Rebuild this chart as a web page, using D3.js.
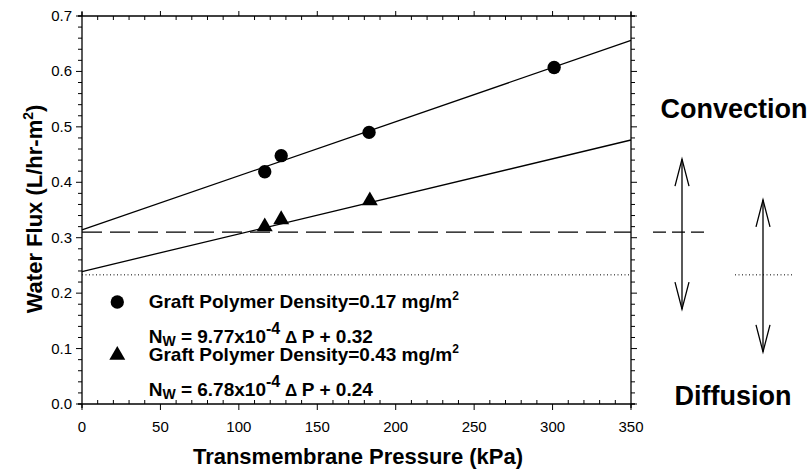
<!DOCTYPE html>
<html>
<head>
<meta charset="utf-8">
<script src="https://cdnjs.cloudflare.com/ajax/libs/d3/7.8.5/d3.min.js"></script>
<style>
  body { margin: 0; background: #fff; }
  svg { display: block; }
  text { font-family: Arial, "Liberation Sans", sans-serif; fill: #000; }
</style>
</head>
<body>
<script>
// measured points, low graft density (circles)
var pressureLow = [116.5, 127, 183, 301];
var fluxLow = [0.419, 0.448, 0.490, 0.607];
// high graft density (triangles)
var pressureHigh = [116.5, 127, 183.5];
var fluxHigh = [0.318, 0.331, 0.365];

// regression lines
var fitSlope = [9.77e-4, 6.78e-4];
var fitIntercept = [0.314, 0.239];

// reference levels
var convectionLevel = 0.31;
var diffusionLevel = 0.233;

var xTicks = [0, 50, 100, 150, 200, 250, 300, 350];
var yTicks = [0.0, 0.1, 0.2, 0.3, 0.4, 0.5, 0.6, 0.7];
var legendDensity = ["Graft Polymer Density=0.17 mg/m", "Graft Polymer Density=0.43 mg/m"];
var legendSlope = ["9.77x10", "6.78x10"];
var legendIntercept = ["0.32", "0.24"];

var margin = {top: 16, right: 177, bottom: 68, left: 82},
    width = 808 - margin.left - margin.right,
    height = 472 - margin.top - margin.bottom;

var svg = d3.select("body").append("svg")
    .attr("width", 808)
    .attr("height", 472);

var g = svg.append("g")
    .attr("transform", "translate(" + margin.left + "," + margin.top + ")");

var x = d3.scaleLinear().domain([0, 350]).range([0, width]);
var y = d3.scaleLinear().domain([0, 0.7]).range([height, 0]);

var minorX = d3.range(0, 351, 10).filter(function(v) { return v % 50 !== 0; });
var minorY = d3.range(0, 36).map(function(i) { return i * 0.02; })
    .filter(function(v) { return Math.abs(v * 10 - Math.round(v * 10)) > 1e-6; });

// frame lines
g.append("line").attr("x1", 0).attr("x2", 0).attr("y1", -4).attr("y2", height + 4)
    .attr("stroke", "#000").attr("stroke-width", 1.3);
g.append("line").attr("x1", width).attr("x2", width).attr("y1", -4).attr("y2", height + 4)
    .attr("stroke", "#000").attr("stroke-width", 1.3);
g.append("line").attr("x1", -4).attr("x2", width + 4).attr("y1", height).attr("y2", height)
    .attr("stroke", "#000").attr("stroke-width", 1.3);
g.append("line").attr("x1", -4).attr("x2", width + 4).attr("y1", 0).attr("y2", 0)
    .attr("stroke", "#000").attr("stroke-width", 1.3);

// bottom axis: major out, minor in
var axBottom = g.append("g").attr("transform", "translate(0," + height + ")");
axBottom.selectAll(".maj").data(xTicks).enter().append("line")
    .attr("x1", function(d) { return x(d); }).attr("x2", function(d) { return x(d); })
    .attr("y1", 0).attr("y2", 6).attr("stroke", "#000");
axBottom.selectAll(".min").data(minorX).enter().append("line")
    .attr("x1", function(d) { return x(d); }).attr("x2", function(d) { return x(d); })
    .attr("y1", 0).attr("y2", -4).attr("stroke", "#000");
axBottom.selectAll("text").data(xTicks).enter().append("text")
    .attr("x", function(d) { return x(d); })
    .attr("y", 28)
    .attr("text-anchor", "middle")
    .style("font-size", "15px")
    .text(function(d) { return d; });

// top axis: major out, minor in
var axTop = g.append("g");
axTop.selectAll(".maj").data(xTicks).enter().append("line")
    .attr("x1", function(d) { return x(d); }).attr("x2", function(d) { return x(d); })
    .attr("y1", 0).attr("y2", -5).attr("stroke", "#000");
axTop.selectAll(".min").data(minorX).enter().append("line")
    .attr("x1", function(d) { return x(d); }).attr("x2", function(d) { return x(d); })
    .attr("y1", 0).attr("y2", 4).attr("stroke", "#000");

// left axis
var axLeft = g.append("g");
axLeft.selectAll(".maj").data(yTicks).enter().append("line")
    .attr("y1", function(d) { return y(d); }).attr("y2", function(d) { return y(d); })
    .attr("x1", 0).attr("x2", -6).attr("stroke", "#000");
axLeft.selectAll(".min").data(minorY).enter().append("line")
    .attr("y1", function(d) { return y(d); }).attr("y2", function(d) { return y(d); })
    .attr("x1", 0).attr("x2", -4).attr("stroke", "#000");
axLeft.selectAll("text").data(yTicks).enter().append("text")
    .attr("x", -10)
    .attr("y", function(d) { return y(d) + 5; })
    .attr("text-anchor", "end")
    .style("font-size", "15px")
    .text(function(d) { return d.toFixed(1); });

// right axis
var axRight = g.append("g").attr("transform", "translate(" + width + ",0)");
axRight.selectAll(".maj").data(yTicks).enter().append("line")
    .attr("y1", function(d) { return y(d); }).attr("y2", function(d) { return y(d); })
    .attr("x1", 0).attr("x2", 6).attr("stroke", "#000");
axRight.selectAll(".min").data(minorY).enter().append("line")
    .attr("y1", function(d) { return y(d); }).attr("y2", function(d) { return y(d); })
    .attr("x1", 0).attr("x2", 4).attr("stroke", "#000");

// reference levels inside the plot
g.append("line")
    .attr("x1", x(0)).attr("x2", x(350))
    .attr("y1", y(convectionLevel)).attr("y2", y(convectionLevel))
    .attr("stroke", "#000").attr("stroke-width", 1.1)
    .attr("stroke-dasharray", "20,8");
g.append("line")
    .attr("x1", x(0)).attr("x2", x(350))
    .attr("y1", y(diffusionLevel)).attr("y2", y(diffusionLevel))
    .attr("stroke", "#000").attr("stroke-width", 1)
    .attr("stroke-dasharray", "1,2.5");

// regression lines
var fitLine = d3.line()
    .x(function(d) { return x(d[0]); })
    .y(function(d) { return y(d[1]); });
fitSlope.forEach(function(s, i) {
  g.append("path")
      .datum([[0, fitIntercept[i]], [350, fitIntercept[i] + s * 350]])
      .attr("d", fitLine)
      .attr("fill", "none")
      .attr("stroke", "#000")
      .attr("stroke-width", 1.3);
});

// points
var circleSym = d3.symbol().type(d3.symbolCircle).size(140);
var triSym = d3.symbol().type(d3.symbolTriangle).size(110);
g.selectAll(".low").data(pressureLow).enter().append("path")
    .attr("d", circleSym)
    .attr("transform", function(d, i) { return "translate(" + x(d) + "," + y(fluxLow[i]) + ")"; });
g.selectAll(".high").data(pressureHigh).enter().append("path")
    .attr("d", triSym)
    .attr("transform", function(d, i) { return "translate(" + x(d) + "," + (y(fluxHigh[i]) - 1) + ")"; });

// legend
var legendY = [y(0.184), y(0.088)];
var legendRows = g.append("g");
[circleSym, triSym].forEach(function(sym, i) {
  legendRows.append("path").attr("d", sym)
      .attr("transform", "translate(" + x(22.5) + "," + legendY[i] + ")");
  var t1 = legendRows.append("text")
      .attr("x", x(42.5)).attr("y", legendY[i] + 6)
      .style("font-size", "19px").style("font-weight", "bold");
  t1.append("tspan").text(legendDensity[i]);
  t1.append("tspan").attr("dy", -8).style("font-size", "12px").text("2");
  var t2 = legendRows.append("text")
      .attr("x", x(42.5)).attr("y", legendY[i] + 41)
      .style("font-size", "19px").style("font-weight", "bold");
  t2.append("tspan").text("N");
  t2.append("tspan").attr("dy", 3).style("font-size", "14px").text("W");
  t2.append("tspan").attr("dy", -3).text(" = " + legendSlope[i]);
  t2.append("tspan").attr("dy", -9).style("font-size", "16px").text("-4");
  t2.append("tspan").attr("dy", 9).style("font-size", "17px").text(" \u0394 ");
  t2.append("tspan").text("P + " + legendIntercept[i]);
});

// axis titles
svg.append("text")
    .attr("x", 358)
    .attr("y", 464)
    .attr("text-anchor", "middle")
    .style("font-size", "22px").style("font-weight", "bold")
    .text("Transmembrane Pressure (kPa)");

var yTitle = svg.append("text")
    .attr("transform", "translate(42,209) rotate(-90)")
    .attr("text-anchor", "middle")
    .style("font-size", "22px").style("font-weight", "bold");
yTitle.append("tspan").text("Water Flux (L/hr-m");
yTitle.append("tspan").attr("dy", -9).style("font-size", "14px").text("2");
yTitle.append("tspan").attr("dy", 9).text(")");

// convection / diffusion annotation on the right
var side = svg.append("g");
side.append("text").attr("x", 734).attr("y", 118)
    .attr("text-anchor", "middle")
    .style("font-size", "27px").style("font-weight", "bold")
    .text("Convection");
side.append("text").attr("x", 733).attr("y", 405)
    .attr("text-anchor", "middle")
    .style("font-size", "27px").style("font-weight", "bold")
    .text("Diffusion");

function doubleArrow(cx, cy, half) {
  side.append("line").attr("x1", cx).attr("x2", cx)
      .attr("y1", cy - half).attr("y2", cy + half)
      .attr("stroke", "#000").attr("stroke-width", 1.3);
  side.append("path")
      .attr("d", "M" + (cx - 7) + "," + (cy - half + 27) + "L" + cx + "," + (cy - half) + "L" + (cx + 7) + "," + (cy - half + 27))
      .attr("fill", "none").attr("stroke", "#000").attr("stroke-width", 1.3);
  side.append("path")
      .attr("d", "M" + (cx - 7) + "," + (cy + half - 27) + "L" + cx + "," + (cy + half) + "L" + (cx + 7) + "," + (cy + half - 27))
      .attr("fill", "none").attr("stroke", "#000").attr("stroke-width", 1.3);
}

var convY = margin.top + y(convectionLevel);
var diffY = margin.top + y(diffusionLevel);
side.append("line").attr("x1", 653).attr("x2", 707)
    .attr("y1", convY).attr("y2", convY)
    .attr("stroke", "#000").attr("stroke-width", 1.1)
    .attr("stroke-dasharray", "13,6");
doubleArrow(682, convY + 2, 75);
side.append("line").attr("x1", 735).attr("x2", 792)
    .attr("y1", diffY).attr("y2", diffY)
    .attr("stroke", "#000").attr("stroke-width", 1)
    .attr("stroke-dasharray", "1,2.5");
doubleArrow(763, diffY + 1, 76);
</script>
</body>
</html>
